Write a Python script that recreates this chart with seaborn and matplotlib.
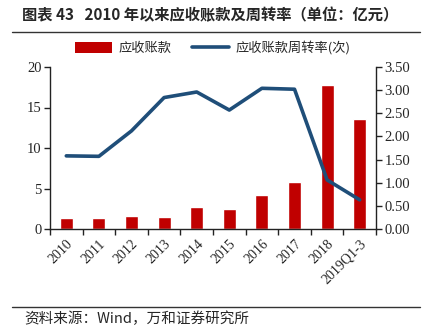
import matplotlib
matplotlib.use("Agg")
import matplotlib.pyplot as plt
import seaborn as sns
import pandas as pd
from matplotlib.lines import Line2D
from matplotlib.patches import Patch

categories = ["2010", "2011", "2012", "2013", "2014", "2015", "2016", "2017", "2018", "2019Q1-3"]
receivables = [1.3, 1.4, 1.55, 1.45, 2.7, 2.45, 4.2, 5.8, 17.8, 13.6]
turnover = [1.58, 1.57, 2.12, 2.84, 2.96, 2.57, 3.04, 3.02, 1.06, 0.63]
left_ticks = [0, 5, 10, 15, 20]
right_ticks = [0.0, 0.5, 1.0, 1.5, 2.0, 2.5, 3.0, 3.5]

sns.set_theme(style="white")
plt.rcParams['font.family'] = ['Liberation Serif', 'Noto Sans CJK SC']
cjk = ['Noto Sans CJK SC', 'DejaVu Sans']

df = pd.DataFrame({"cat": categories, "rec": receivables, "turn": turnover})

fig = plt.figure(figsize=(4.28, 3.31), dpi=100)
ax = fig.add_axes([50/428, 1-229/331, 326/428, 162/331])
bar_color = "#C00000"
line_color = "#1F4E79"

sns.barplot(data=df, x="cat", y="rec", color=bar_color, width=0.4, ax=ax, saturation=1)
ax.set_ylim(0, 20)
ax.set_yticks(left_ticks)
ax.set_xlim(-0.5, len(categories) - 0.5)
ax.set_xlabel("")
ax.set_ylabel("")

ax2 = ax.twinx()
sns.lineplot(x=list(range(len(categories))), y=turnover, color=line_color, linewidth=2.6, ax=ax2)
ax2.set_ylim(0, 3.5)
ax2.set_yticks(right_ticks)
ax2.set_yticklabels([f"{v:.2f}" for v in right_ticks])
ax2.set_xlim(-0.5, len(categories) - 0.5)

for a in (ax, ax2):
    for s in a.spines.values():
        s.set_color("#222222")
        s.set_linewidth(1.0)
    a.spines["top"].set_visible(False)
    a.grid(False)

ax.spines["right"].set_visible(False)
ax2.spines["left"].set_visible(False)
ax2.spines["bottom"].set_visible(False)

ax.set_xticks(range(len(categories)))
ax.set_xticklabels(categories, rotation=45, ha="right", rotation_mode="anchor", fontsize=10)
ax.set_xticks([i - 0.5 for i in range(len(categories) + 1)], minor=True)
ax.tick_params(axis="x", which="major", length=0, pad=6)
ax.tick_params(axis="x", which="minor", length=4, width=1, color="#222222", direction="out", bottom=True)
ax.tick_params(axis="y", which="major", length=4, width=1, color="#222222", direction="out", left=True, labelsize=10.5, pad=2)
ax2.tick_params(axis="y", which="major", length=4, width=1, color="#222222", direction="out", right=True, labelsize=10.5, pad=2)

handles = [Patch(facecolor=bar_color, edgecolor="none"),
           Line2D([0], [0], color=line_color, linewidth=2.6)]
fig.legend(handles, ["应收账款", "应收账款周转率(次)"], loc="center", bbox_to_anchor=(0.497, 1-48/331),
           ncol=2, frameon=False, prop={'family': cjk, 'size': 9.5}, handlelength=2.8,
           handleheight=0.9, columnspacing=1.6, handletextpad=0.5)

fig.text(22/428, 1-15/331, "图表 43   2010 年以来应收账款及周转率（单位：亿元）", family=cjk,
         fontsize=11, fontweight="bold", va="center", ha="left")
fig.add_artist(Line2D([12/428, 420/428], [1-32/331, 1-32/331], color="#333333", linewidth=1.0))
fig.add_artist(Line2D([12/428, 420/428], [1-307/331, 1-307/331], color="#333333", linewidth=1.0))
fig.text(24/428, 1-319/331, "资料来源：Wind，万和证券研究所", family=cjk, fontsize=10.5, va="center", ha="left")

fig.savefig("out.png", dpi=100)
